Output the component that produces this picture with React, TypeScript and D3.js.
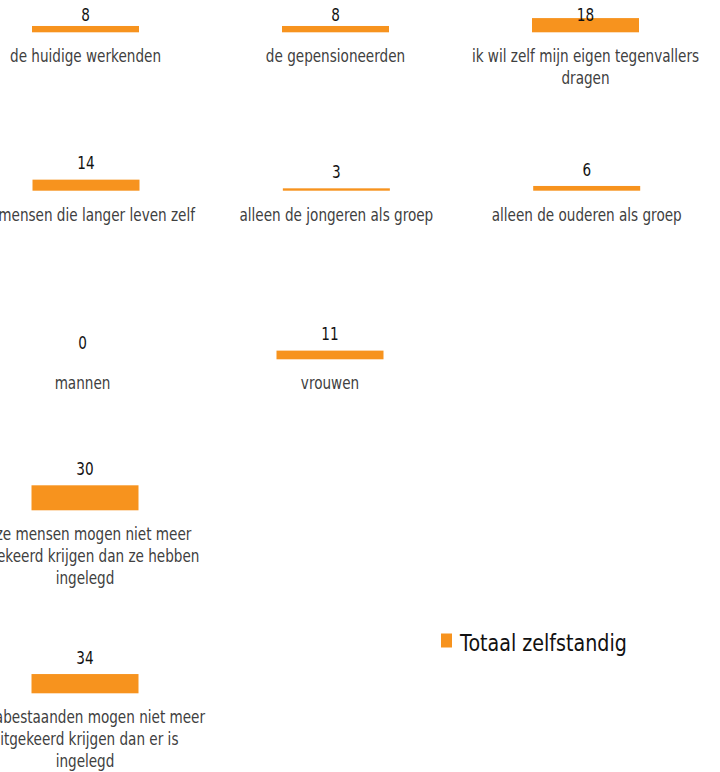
import React from "react";
import * as d3 from "d3";

// ---- data ----
const categories: string[] = [
  "de huidige werkenden",
  "de gepensioneerden",
  "ik wil zelf mijn eigen tegenvallers\ndragen",
  "de mensen die langer leven zelf",
  "alleen de jongeren als groep",
  "alleen de ouderen als groep",
  "mannen",
  "vrouwen",
  "deze mensen mogen niet meer\nuitgekeerd krijgen dan ze hebben\ningelegd",
  "de nabestaanden mogen niet meer\nuitgekeerd krijgen dan er is\ningelegd",
];
const values: number[] = [8, 8, 18, 14, 3, 6, 0, 11, 30, 34];
const seriesName = "Totaal zelfstandig";

// ---- layout ----
const panelRow = [0, 0, 0, 1, 1, 1, 2, 2, 3, 4];
const panelCol = [0, 1, 2, 0, 1, 2, 0, 1, 0, 0];
const rowBaseline = [32.3, 190.7, 359.3, 510.3, 693.3];
const rowDomainMax = [38, 38, 38, 36, 53];
const rowXRange: [number, number][] = [
  [85.5, 585.5],
  [86, 586.7],
  [82.5, 577.5],
  [85, 585],
  [85, 585],
];

const W = 720;
const H = 772;
const BAR_W = 107;
const PLOT_H = 30;
const ORANGE = "#F7931E";
const FONT = "'DejaVu Sans', Verdana, sans-serif";
const SX = 0.8;

export default function App() {
  const xScales = rowXRange.map((r) =>
    d3.scalePoint<number>().domain([0, 1, 2]).range(r)
  );
  const yScales = rowDomainMax.map((m) =>
    d3.scaleLinear().domain([0, m]).range([0, PLOT_H])
  );

  return (
    <svg
      width={W}
      height={H}
      style={{ position: "absolute", left: 0, top: 0, background: "#fff" }}
    >
      {values.map((v, i) => {
        const r = panelRow[i];
        const cx = xScales[r](panelCol[i]) as number;
        const base = rowBaseline[r];
        const h = yScales[r](v);
        const top = base - h;
        const labelY = Math.max(top - 10.3, 21);
        const lines = categories[i].split("\n");
        return (
          <g key={i}>
            {h > 0 && (
              <rect
                x={cx - BAR_W / 2}
                y={top}
                width={BAR_W}
                height={h}
                fill={ORANGE}
              />
            )}
            <text
              transform={`translate(${cx},${labelY}) scale(${SX},1)`}
              textAnchor="middle"
              fontFamily={FONT}
              fontSize={17}
              fill="#111"
            >
              {d3.format("d")(v)}
            </text>
            {lines.map((ln, j) => (
              <text
                key={j}
                transform={`translate(${cx},${base + 30 + j * 21.7}) scale(${SX},1)`}
                textAnchor="middle"
                fontFamily={FONT}
                fontSize={17}
                fill="#404040"
              >
                {ln}
              </text>
            ))}
          </g>
        );
      })}
      <g>
        <rect x={441} y={633.5} width={11} height={14} fill={ORANGE} />
        <text
          transform={`translate(460,651) scale(0.83,1)`}
          fontFamily={FONT}
          fontSize={23}
          fill="#111"
        >
          {seriesName}
        </text>
      </g>
    </svg>
  );
}
